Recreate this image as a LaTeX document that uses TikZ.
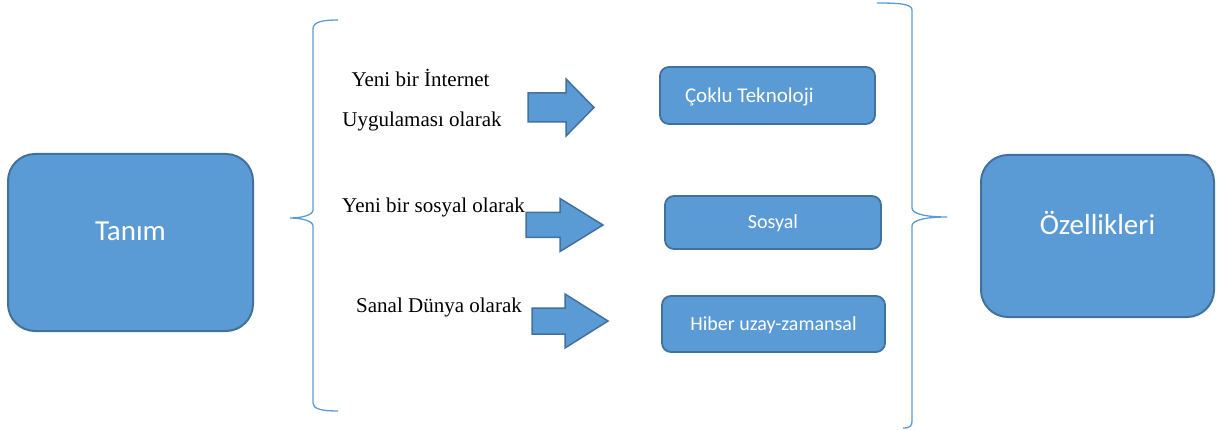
\documentclass[tikz,border=0pt]{standalone}
\usepackage{fontspec}
\setmainfont{Liberation Serif}
\newfontfamily\carlito{Carlito}
\definecolor{boxfill}{HTML}{5B9BD5}
\definecolor{boxedge}{HTML}{41719C}
\definecolor{bracecol}{HTML}{5B9BD5}
% block arrow: left x, head base x, tip x, centre y, half body height, half head height
\newcommand\blkarrow[6]{%
  \draw[blockarrow] (#1,#4-#5) -- (#2,#4-#5) -- (#2,#4-#6) -- (#3,#4)
    -- (#2,#4+#6) -- (#2,#4+#5) -- (#1,#4+#5) -- cycle;}
\begin{document}
\begin{tikzpicture}[x=1pt,y=-1pt,
  bigbox/.style={draw=boxedge, fill=boxfill, line width=2pt, rounded corners=27pt,
    font=\carlito\fontsize{29}{34}\selectfont, text=white, text height=18.7pt, inner sep=0pt},
  smallbox/.style={draw=boxedge, fill=boxfill, line width=1.8pt, rounded corners=9pt,
    font=\carlito\fontsize{20}{24}\selectfont, text=white, text height=12.9pt,
    text depth=0pt, inner sep=0pt},
  blockarrow/.style={draw=boxedge, fill=boxfill, line width=1.5pt, line join=miter},
  bracepath/.style={draw=bracecol, line width=1.3pt},
  sidetext/.style={font=\fontsize{21}{25}\selectfont, inner sep=0pt}]
\useasboundingbox (0,0) rectangle (1217,430);

% main boxes
\node[bigbox, minimum width=245pt, minimum height=177pt, text depth=22pt]
  (tanim) at (130.5,242.5) {Tanım};
\node[bigbox, minimum width=233pt, minimum height=162pt, text depth=20.7pt]
  (ozellik) at (1097.5,236) {Özellikleri};

% feature boxes
\node[smallbox, minimum width=215pt, minimum height=57pt, text width=165pt,
  align=flush left, inner xsep=25pt, font=\carlito\fontsize{21}{25}\selectfont,
  text height=13.5pt] (coklu) at (767.5,95.5) {Çoklu Teknoloji};
\node[smallbox, minimum width=216pt, minimum height=53pt] (sosyal) at (773,222.5) {Sosyal};
\node[smallbox, minimum width=223pt, minimum height=56pt] (hiber) at (773.5,324) {Hiber uzay-zamansal};

% definition texts
\node[sidetext, anchor=base] (t1a) at (420.5,87) {Yeni bir İnternet};
\node[sidetext, anchor=base] (t1b) at (422,127) {Uygulaması olarak};
\node[sidetext, anchor=base west] (t2) at (342,213) {Yeni bir sosyal olarak};
\node[sidetext, anchor=base west] (t3) at (356,312) {Sanal Dünya olarak};

% block arrows
\blkarrow{528}{566}{594}{107.5}{14.5}{28.5}
\blkarrow{526}{560}{603}{225}{12.5}{26.5}
\blkarrow{532}{565}{608}{321}{13}{27}

% left brace
\draw[bracepath] (338,20) .. controls (322,20) and (313,22) .. (313,29)
  -- (313,210) .. controls (313,215) and (302,218) .. (290,218)
  .. controls (302,218) and (313,221) .. (313,226)
  -- (313,403) .. controls (313,409) and (322,411) .. (338,411);

% right brace
\draw[bracepath] (877,3) .. controls (900,3) and (912,4) .. (912,10)
  -- (912,208) .. controls (912,214) and (926,217) .. (947,217)
  .. controls (926,217) and (912,220) .. (912,226)
  -- (912,421) .. controls (912,426) and (910,428) .. (903,428);
\end{tikzpicture}
\end{document}
